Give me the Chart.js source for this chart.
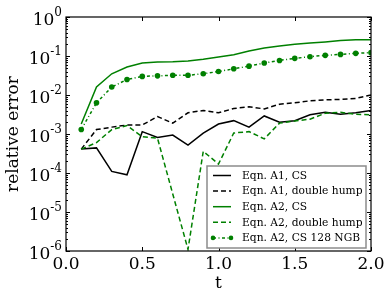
<!DOCTYPE html>
<html>
<head>
<meta charset="utf-8">
<script src="https://cdn.jsdelivr.net/npm/chart.js@4"></script>
<style>
  html, body { margin: 0; padding: 0; background: #fff; }
  #wrap { width: 390px; height: 294px; }
</style>
</head>
<body>
<div id="wrap"><canvas id="chart" width="390" height="294"></canvas></div>
<script>
// values
var tValues = [0.1, 0.2, 0.3, 0.4, 0.5, 0.6, 0.7, 0.8, 0.9, 1.0,
               1.1, 1.2, 1.3, 1.4, 1.5, 1.6, 1.7, 1.8, 1.9, 2.0];

var a1Cs = [4.1e-4, 4.4e-4, 1.1e-4, 9e-5, 1.15e-3, 8.1e-4, 9.4e-4, 5.2e-4, 1.05e-3, 1.8e-3,
            2.2e-3, 1.5e-3, 2.9e-3, 2.0e-3, 2.2e-3, 3.1e-3, 3.6e-3, 3.2e-3, 3.5e-3, 4.0e-3];

var a1DoubleHump = [4.1e-4, 1.3e-3, 1.5e-3, 1.7e-3, 1.7e-3, 2.8e-3, 1.9e-3, 3.5e-3, 4.0e-3, 3.5e-3,
                    4.5e-3, 5.0e-3, 4.4e-3, 5.8e-3, 6.3e-3, 7.1e-3, 7.5e-3, 7.7e-3, 8.2e-3, 1.0e-2];

var a2Cs = [1.8e-3, 0.016, 0.035, 0.052, 0.066, 0.070, 0.071, 0.074, 0.082, 0.094,
            0.108, 0.134, 0.16, 0.18, 0.20, 0.215, 0.23, 0.25, 0.26, 0.26];

var a2DoubleHump = [4.1e-4, 6e-4, 1.3e-3, 1.65e-3, 8.5e-4, 7.8e-4, 2.9e-5, 1.1e-6, 3.6e-4, 1.7e-4,
                    1.06e-3, 1.15e-3, 7.5e-4, 1.9e-3, 2.15e-3, 2.4e-3, 3.4e-3, 3.6e-3, 3.2e-3, 3.1e-3];

var a2Cs128 = [1.3e-3, 6.3e-3, 0.016, 0.025, 0.030, 0.031, 0.032, 0.032, 0.035, 0.040,
               0.047, 0.055, 0.066, 0.077, 0.087, 0.096, 0.104, 0.11, 0.117, 0.122];

var seriesNames = ["Eqn. A1, CS", "Eqn. A1, double hump", "Eqn. A2, CS",
                   "Eqn. A2, double hump", "Eqn. A2, CS 128 NGB"];

var xTickValues = [0, 0.5, 1.0, 1.5, 2.0];
var yExponents = [0, -1, -2, -3, -4, -5, -6];

var GREEN = "#008000";
var SERIF = "'DejaVu Serif', 'Liberation Serif', serif";

function pts(arr) {
	return tValues.map(function (t, i) { return {x: t, y: arr[i]}; });
}

var styles = [
	{color: "#000", dash: [], radius: 0},
	{color: "#000", dash: [5, 3], radius: 0},
	{color: GREEN, dash: [], radius: 0},
	{color: GREEN, dash: [5, 3], radius: 0},
	{color: GREEN, dash: [3, 2.5, 1, 2.5], radius: 2.8}
];
var seriesData = [a1Cs, a1DoubleHump, a2Cs, a2DoubleHump, a2Cs128];

var datasets = seriesData.map(function (arr, i) {
	var s = styles[i];
	return {
		label: seriesNames[i],
		data: pts(arr),
		borderColor: s.color,
		backgroundColor: s.color,
		borderWidth: 1.5,
		borderDash: s.dash,
		pointRadius: s.radius,
		pointBorderWidth: 0,
		pointHoverRadius: s.radius,
		tension: 0,
		fill: false,
		order: 5 - i
	};
});

// frame, inward ticks, y tick labels with exponents, legend box
var decorations = {
	id: "decorations",
	afterDraw: function (chart) {
		var ctx = chart.ctx, a = chart.chartArea;
		var xs = chart.scales.x, ys = chart.scales.y;
		ctx.save();
		ctx.strokeStyle = "#000";
		ctx.lineWidth = 1.2;
		ctx.strokeRect(a.left, a.top, a.right - a.left, a.bottom - a.top);

		ctx.lineWidth = 1;
		ctx.beginPath();
		xTickValues.forEach(function (v) {
			var px = Math.round(xs.getPixelForValue(v)) + 0.5;
			ctx.moveTo(px, a.bottom); ctx.lineTo(px, a.bottom - 4);
			ctx.moveTo(px, a.top); ctx.lineTo(px, a.top + 4);
		});
		yExponents.forEach(function (e) {
			var py = Math.round(ys.getPixelForValue(Math.pow(10, e))) + 0.5;
			ctx.moveTo(a.left, py); ctx.lineTo(a.left + 4, py);
			ctx.moveTo(a.right, py); ctx.lineTo(a.right - 4, py);
			if (e < 0) {
				for (var m = 2; m <= 9; m++) {
					var pm = Math.round(ys.getPixelForValue(m * Math.pow(10, e))) + 0.5;
					ctx.moveTo(a.left, pm); ctx.lineTo(a.left + 2, pm);
					ctx.moveTo(a.right, pm); ctx.lineTo(a.right - 2, pm);
				}
			}
		});
		ctx.stroke();

		// y tick labels: 10 with raised exponent
		ctx.fillStyle = "#000";
		ctx.textBaseline = "alphabetic";
		yExponents.forEach(function (e) {
			var py = ys.getPixelForValue(Math.pow(10, e));
			var expText = String(e);
			ctx.font = "12px " + SERIF;
			var we = ctx.measureText(expText).width;
			var right = a.left - 4;
			ctx.textAlign = "right";
			ctx.fillText(expText, right, py - 1);
			ctx.font = "17px " + SERIF;
			ctx.fillText("10", right - we, py + 7.5);
		});

		// legend
		var lx = 207, ly = 166, lw = 159, lh = 82;
		ctx.fillStyle = "#fff";
		ctx.fillRect(lx, ly, lw, lh);
		ctx.strokeStyle = "#8c8c8c";
		ctx.lineWidth = 1.5;
		ctx.strokeRect(lx, ly, lw, lh);
		ctx.font = "10.7px " + SERIF;
		ctx.textAlign = "left";
		ctx.textBaseline = "middle";
		seriesNames.forEach(function (name, i) {
			var s = styles[i];
			var ry = ly + 9.5 + i * 15.6;
			ctx.strokeStyle = s.color;
			ctx.lineWidth = 1.5;
			ctx.setLineDash(s.dash);
			ctx.beginPath();
			ctx.moveTo(lx + 6, ry); ctx.lineTo(lx + 24, ry);
			ctx.stroke();
			ctx.setLineDash([]);
			if (s.radius) {
				ctx.fillStyle = s.color;
				[lx + 6, lx + 24].forEach(function (cx) {
					ctx.beginPath(); ctx.arc(cx, ry, 2.3, 0, Math.PI * 2); ctx.fill();
				});
			}
			ctx.fillStyle = "#000";
			ctx.fillText(name, lx + 35, ry + 0.5);
		});
		ctx.restore();
	}
};

var chart = new Chart(document.getElementById("chart"), {
	type: "line",
	data: {datasets: datasets},
	options: {
		responsive: false,
		animation: false,
		events: [],
		layout: {padding: {left: 0, right: 19, top: 17, bottom: 0}},
		plugins: {legend: {display: false}, tooltip: {enabled: false}},
		scales: {
			x: {
				type: "linear",
				min: 0, max: 2,
				afterBuildTicks: function (scale) {
					scale.ticks = xTickValues.map(function (v) { return {value: v}; });
				},
				afterFit: function (scale) { scale.height = 43; },
				grid: {display: false, drawTicks: false},
				border: {display: false},
				ticks: {
					color: "#000",
					padding: 3,
					font: {family: SERIF, size: 17},
					maxRotation: 0,
					callback: function (v) { return Number(v).toFixed(1); }
				},
				title: {
					display: true, text: "t", color: "#000",
					font: {family: SERIF, size: 17},
					padding: {top: 0, bottom: 0}
				}
			},
			y: {
				type: "logarithmic",
				min: 1e-6, max: 1,
				afterFit: function (scale) { scale.width = 66; },
				grid: {display: false, drawTicks: false},
				border: {display: false},
				ticks: {display: false},
				title: {
					display: true, text: "relative error", color: "#000",
					font: {family: SERIF, size: 17},
					padding: {top: 3, bottom: 0}
				}
			}
		}
	},
	plugins: [decorations]
});
</script>
</body>
</html>
